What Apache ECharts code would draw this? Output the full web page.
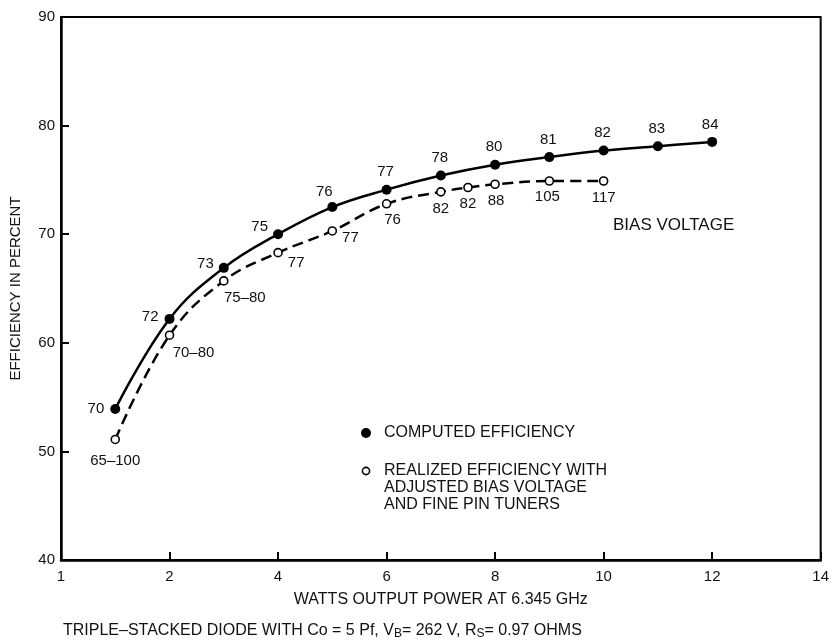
<!DOCTYPE html>
<html><head><meta charset="utf-8">
<script src="https://cdn.jsdelivr.net/npm/echarts@6/dist/echarts.min.js"></script>
<style>html,body{margin:0;padding:0;background:#fff}#c{width:832px;height:642px}</style>
</head><body><div id="c"></div>
<script>
// ---- data ----
const xTickLabels = ['1', '2', '4', '6', '8', '10', '12', '14'];
const computedWatts = [1, 2, 3, 4, 5, 6, 7, 8, 9, 10, 11, 12];
const computedEff = [53.9, 62.2, 66.9, 70.0, 72.5, 74.1, 75.4, 76.4, 77.1, 77.7, 78.1, 78.5];
const computedBias = ['70', '72', '73', '75', '76', '77', '78', '80', '81', '82', '83', '84'];
const realizedWatts = [1, 2, 3, 4, 5, 6, 7, 7.5, 8, 9, 10];
const realizedEff = [51.1, 60.7, 65.7, 68.3, 70.3, 72.8, 73.9, 74.3, 74.6, 74.9, 74.9];
const realizedBias = ['65–100', '70–80', '75–80', '77', '77', '76', '82', '82', '88', '105', '117'];

// ---- label placement (style) ----
const computedLabelPlace = [
  ['left', [-1, 0]], ['left', [-1, -2]], ['left', [0, -4]], ['left', [0, -7]],
  ['top', [-8, 2]], ['top', [-1, 0]], ['top', [-1, 0]], ['top', [-1, 0]],
  ['top', [-1, 0]], ['top', [-1, 0]], ['top', [-1, 0]], ['top', [-2, 0]]
];
const realizedLabelPlace = [
  ['bottom', [0, 4]], ['bottom', [24, 0]], ['bottom', [21, 0]], ['right', [0, 10]],
  ['right', [0, 7]], ['bottom', [6, -1]], ['bottom', [0, 0]], ['bottom', [0, -1]],
  ['bottom', [1, -1]], ['bottom', [-2, -1]], ['bottom', [0, 0]]
];

const FONT = 'Liberation Sans';
const chart = echarts.init(document.getElementById('c'), null, { renderer: 'canvas' });

function build(xs, ys, labels, place) {
  return xs.map((x, i) => ({
    value: [x, ys[i]],
    label: { show: true, formatter: labels[i], position: place[i][0], offset: place[i][1] }
  }));
}

const labelStyle = { color: '#111', fontSize: 15, fontFamily: FONT, distance: 5 };

chart.setOption({
  animation: false,
  backgroundColor: '#fff',
  grid: { left: 58, right: 8, top: 17, bottom: 82, show: true, borderColor: '#000', borderWidth: 2, backgroundColor: 'transparent' },
  xAxis: {
    type: 'value', min: 0, max: 14, interval: 2,
    name: 'WATTS OUTPUT POWER AT 6.345 GHz', nameLocation: 'middle', nameGap: 32,
    nameTextStyle: { color: '#111', fontSize: 16, fontFamily: FONT },
    axisLine: { show: true, onZero: false, lineStyle: { color: '#000', width: 2.5 } },
    axisTick: { show: true, inside: true, length: 8, lineStyle: { color: '#000', width: 2 } },
    axisLabel: { show: true, margin: 9, color: '#111', fontSize: 15, fontFamily: FONT, showMinLabel: true, showMaxLabel: true,
      formatter: v => xTickLabels[Math.round(v / 2)] },
    splitLine: { show: false }
  },
  yAxis: {
    type: 'value', min: 40, max: 90, interval: 10,
    name: 'EFFICIENCY IN PERCENT', nameLocation: 'middle', nameGap: 38, nameRotate: 90,
    nameTextStyle: { color: '#111', fontSize: 15, fontFamily: FONT },
    axisLine: { show: true, onZero: false, lineStyle: { color: '#000', width: 2.5 } },
    axisTick: { show: true, inside: true, length: 8, lineStyle: { color: '#000', width: 2 } },
    axisLabel: { show: true, margin: 6, color: '#111', fontSize: 15, fontFamily: FONT, showMinLabel: true, showMaxLabel: true },
    splitLine: { show: false }
  },
  series: [
    {
      name: 'COMPUTED EFFICIENCY', type: 'line', smooth: 0.4,
      data: build(computedWatts, computedEff, computedBias, computedLabelPlace),
      symbol: 'circle', symbolSize: 10,
      itemStyle: { color: '#000', borderColor: '#000', borderWidth: 0 },
      lineStyle: { color: '#000', width: 2.5 },
      label: labelStyle, z: 3
    },
    {
      name: 'REALIZED EFFICIENCY', type: 'line', smooth: 0.4,
      data: build(realizedWatts, realizedEff, realizedBias, realizedLabelPlace),
      symbol: 'circle', symbolSize: 8,
      itemStyle: { color: '#fff', borderColor: '#000', borderWidth: 1.6 },
      lineStyle: { color: '#000', width: 2.5, type: [11, 6] },
      label: labelStyle, z: 3
    }
  ],
  graphic: [
    { type: 'circle', shape: { cx: 366, cy: 433, r: 5 }, style: { fill: '#000' } },
    { type: 'text', left: 384, top: 425, style: { text: 'COMPUTED EFFICIENCY', fill: '#111', font: '16px "' + FONT + '"' } },
    { type: 'circle', shape: { cx: 366, cy: 471, r: 3.6 }, style: { fill: '#fff', stroke: '#000', lineWidth: 1.6 } },
    { type: 'text', left: 384, top: 462, style: { text: 'REALIZED EFFICIENCY WITH\nADJUSTED BIAS VOLTAGE\nAND FINE PIN TUNERS', fill: '#111', font: '16px "' + FONT + '"', lineHeight: 17 } },
    { type: 'text', left: 613, top: 217, style: { text: 'BIAS VOLTAGE', fill: '#111', font: '17px "' + FONT + '"' } },
    { type: 'text', left: 63, top: 623, style: {
        text: 'TRIPLE–STACKED DIODE WITH Co = 5 Pf, V{s|B}= 262 V, R{s|S}= 0.97 OHMS',
        fill: '#111', font: '16px "' + FONT + '"',
        rich: { s: { fontSize: 12, fontFamily: FONT, verticalAlign: 'bottom', padding: [6, 0, 0, 0], fill: '#111' } }
      } }
  ]
});
</script>
</body></html>
